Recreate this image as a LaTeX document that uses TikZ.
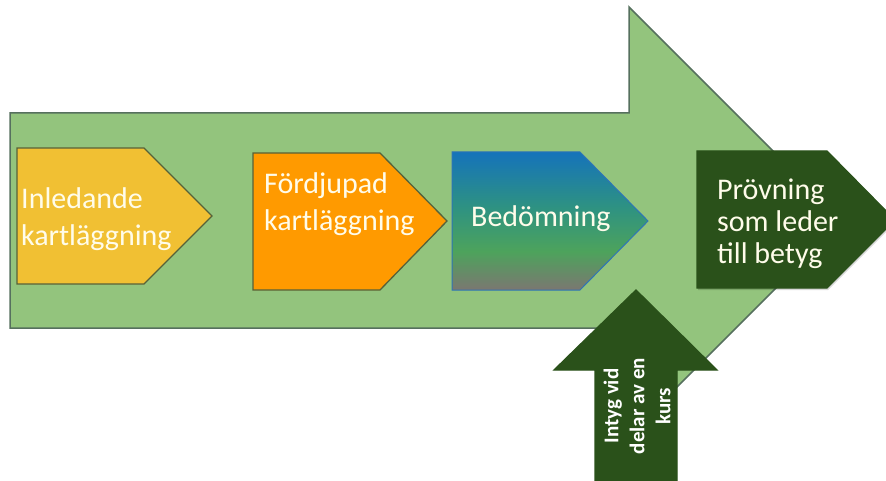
\documentclass[tikz,border=0pt]{standalone}
\usepackage{fontspec}
\setmainfont{Carlito}
\definecolor{biggreen}{HTML}{93C47D}
\definecolor{bigline}{HTML}{56705E}
\definecolor{yel}{HTML}{F1C033}
\definecolor{ora}{HTML}{FF9A00}
\definecolor{olive}{HTML}{56623A}
\definecolor{dgreen}{HTML}{2A511A}
\definecolor{txt}{HTML}{FFFCEA}
\definecolor{bblue}{HTML}{1573BA}
\definecolor{bteal}{HTML}{2E9282}
\definecolor{bgreen}{HTML}{4DA35C}
\definecolor{bgrey}{HTML}{7B7771}
\definecolor{bline}{HTML}{2E75B6}
\pgfdeclareverticalshading{bedshade}{100bp}{color(0bp)=(bgrey); color(25bp)=(bgrey); color(39bp)=(bgreen); color(55bp)=(bteal); color(75bp)=(bblue); color(100bp)=(bblue)}
\tikzset{
  shapeline/.style={line width=1.3pt, line join=miter},
  lbl/.style={text=txt, inner sep=0pt, font=\fontsize{30}{37}\selectfont, align=left, anchor=base west},
}
\begin{document}
\begin{tikzpicture}[x=1pt,y=-1pt]
\useasboundingbox (0,0) rectangle (886,481);
\begin{scope}
\clip (0,0) rectangle (886,481);
% big arrow
\draw[shapeline, fill=biggreen, draw=bigline, line width=1.5pt]
  (10,113) -- (629,113) -- (629,7) -- (843,221) -- (629,435) -- (629,328) -- (10,328) -- cycle;
% Inledande
\draw[shapeline, fill=yel, draw=olive]
  (17,148) -- (144,148) -- (212,216) -- (144,284) -- (17,284) -- cycle;
% Fördjupad
\draw[shapeline, fill=ora, draw=olive]
  (253,153) -- (380,153) -- (447,221) -- (380,290) -- (253,290) -- cycle;
% Bedömning
\shade[shading=bedshade]
  (452,152) -- (580,152) -- (648,221) -- (580,290) -- (452,290) -- cycle;
\draw[line width=1pt, draw=bline]
  (452,152) -- (580,152) -- (648,221) -- (580,290) -- (452,290) -- cycle;
% Prövning
\fill[black, opacity=0.15]
  (698,152) -- (828,152) -- (897,221) -- (828,290) -- (698,290) -- cycle;
\draw[shapeline, fill=dgreen, draw=dgreen]
  (697,151) -- (827,151) -- (895,220) -- (827,288) -- (697,288) -- cycle;
% Intyg arrow
\draw[shapeline, fill=dgreen, draw=dgreen]
  (636,290) -- (717,370) -- (677,370) -- (677,495) -- (595,495) -- (595,370) -- (554,370) -- cycle;
\end{scope}
% texts
\node[lbl] (inl) at (21,245) {Inledande\\kartläggning};
\node[lbl] (ford) at (264,231) {Fördjupad\\kartläggning};
\node[lbl] (bed) at (471,226) {Bedömning};
\node[lbl, font=\fontsize{30}{32}\selectfont] (prov) at (717,263) {Prövning\\som leder\\till betyg};
\node[text=white, inner sep=0pt, align=center, rotate=90, font=\bfseries\fontsize{21}{26}\selectfont] (intyg) at (637,406) {Intyg vid\\delar av en\\kurs};
\end{tikzpicture}
\end{document}
